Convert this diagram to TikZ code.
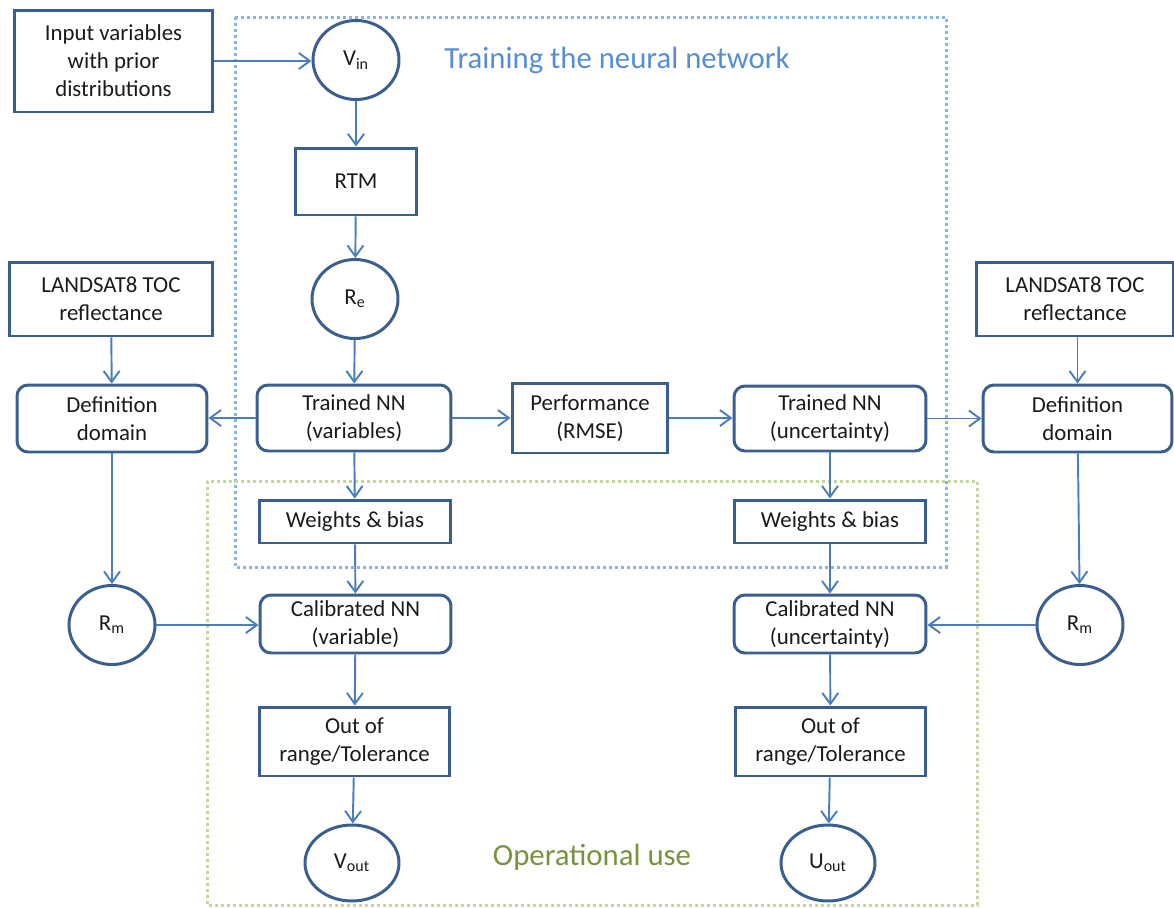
\documentclass[tikz,border=0pt]{standalone}
\usepackage{fontspec}
\setmainfont{Carlito}
\usetikzlibrary{arrows.meta,shapes.geometric}
\definecolor{bord}{HTML}{3A5F8E}
\definecolor{arr}{HTML}{4A7EBB}
\definecolor{txt}{HTML}{1A1A1A}
\definecolor{trainc}{HTML}{558ED5}
\definecolor{opc}{HTML}{77933C}
\definecolor{bluedot}{HTML}{8EB4E3}
\definecolor{greendot}{HTML}{C3D69B}
\tikzset{
  base/.style={draw=bord, line width=1.7pt, text=txt, align=center, inner sep=1pt,
    font=\fontsize{13}{15.9}\selectfont},
  sqbox/.style={base, rectangle},
  rbox/.style={base, rectangle, rounded corners=0.22cm},
  oval/.style={base, ellipse, minimum width=1.72cm, minimum height=1.58cm},
  conn/.style={draw=arr, line width=1.1pt, -{Straight Barb[length=0.22cm,width=0.32cm,line width=1.1pt]}},
  region/.style={line width=0.06cm, dash pattern=on 0.06cm off 0.06cm},
}
\begin{document}
\begin{tikzpicture}[x=0.02cm,y=-0.02cm]
\useasboundingbox (0,0) rectangle (1174,907);
% regions
\draw[region, draw=bluedot] (235,17) rectangle (946,567);
\draw[region, draw=greendot] (207,481) rectangle (977,905);
\node[text=trainc, font=\fontsize{17.5}{20}\selectfont, anchor=center] (ttitle) at (617,60) {Training the neural network};
\node[text=opc, font=\fontsize{17.5}{20}\selectfont, anchor=center] (otitle) at (592,857) {Operational use};
% nodes
\node[sqbox, minimum width=3.98cm, minimum height=2.04cm] (input) at (113.5,61) {Input variables\\with prior\\distributions};
\node[oval] (vin) at (356,60) {V\textsubscript{in}};
\node[sqbox, minimum width=2.44cm, minimum height=1.34cm] (rtm) at (356,181.5) {RTM};
\node[oval] (re) at (355,299) {R\textsubscript{e}};
\node[sqbox, minimum width=4.08cm, minimum height=1.48cm] (landL) at (111,299) {LANDSAT8 TOC\\reflectance};
\node[sqbox, minimum width=3.96cm, minimum height=1.48cm] (landR) at (1075,299) {LANDSAT8 TOC\\reflectance};
\node[rbox, minimum width=3.8cm, minimum height=1.34cm] (defL) at (112,418.5) {Definition\\domain};
\node[rbox, minimum width=3.88cm, minimum height=1.32cm] (tnnv) at (354,418) {Trained NN\\(variables)};
\node[sqbox, minimum width=3.12cm, minimum height=1.4cm] (perf) at (590,418) {Performance\\(RMSE)};
\node[rbox, minimum width=3.84cm, minimum height=1.3cm] (tnnu) at (830,418.5) {Trained NN\\(uncertainty)};
\node[rbox, minimum width=3.78cm, minimum height=1.34cm] (defR) at (1077.5,418.5) {Definition\\domain};
\node[sqbox, minimum width=3.84cm, minimum height=0.86cm] (wbL) at (355,521.5) {Weights \& bias};
\node[sqbox, minimum width=3.84cm, minimum height=0.86cm] (wbR) at (830,521.5) {Weights \& bias};
\node[rbox, minimum width=3.82cm, minimum height=1.16cm] (calV) at (355.5,624) {Calibrated NN\\(variable)};
\node[rbox, minimum width=3.84cm, minimum height=1.16cm] (calU) at (830,624) {Calibrated NN\\(uncertainty)};
\node[sqbox, minimum width=3.82cm, minimum height=1.38cm] (outL) at (354.5,741.5) {Out of\\range/Tolerance};
\node[sqbox, minimum width=3.82cm, minimum height=1.38cm] (outR) at (830.5,741.5) {Out of\\range/Tolerance};
\node[oval] (rmL) at (112,625) {R\textsubscript{m}};
\node[oval] (rmR) at (1080,625) {R\textsubscript{m}};
\node[oval, minimum width=1.88cm, minimum height=1.52cm] (vout) at (352,863) {V\textsubscript{out}};
\node[oval, minimum width=1.88cm, minimum height=1.52cm] (uout) at (828,863) {U\textsubscript{out}};
% connectors
\draw[conn] (input.east) -- (input.east -| vin.west);
\draw[conn] (vin) -- (rtm);
\draw[conn] (rtm) -- (re);
\draw[conn] (re) -- (tnnv);
\draw[conn] (tnnv.west) -- (tnnv.west -| defL.east);
\draw[conn] (tnnv.east) -- (tnnv.east -| perf.west);
\draw[conn] (perf.east) -- (perf.east -| tnnu.west);
\draw[conn] (tnnu.east) -- (tnnu.east -| defR.west);
\draw[conn] (landL) -- (defL);
\draw[conn] (landR.south -| defR.north) -- (defR.north);
\draw[conn] (defL) -- (rmL);
\draw[conn] (defR) -- (rmR);
\draw[conn] (tnnv) -- (wbL);
\draw[conn] (tnnu) -- (wbR);
\draw[conn] (wbL) -- (calV);
\draw[conn] (wbR) -- (calU);
\draw[conn] (rmL.east) -- (rmL.east -| calV.west);
\draw[conn] (rmR.west) -- (rmR.west -| calU.east);
\draw[conn] (calV) -- (outL);
\draw[conn] (calU) -- (outR);
\draw[conn] (outL) -- (vout);
\draw[conn] (outR) -- (uout);
\end{tikzpicture}
\end{document}
